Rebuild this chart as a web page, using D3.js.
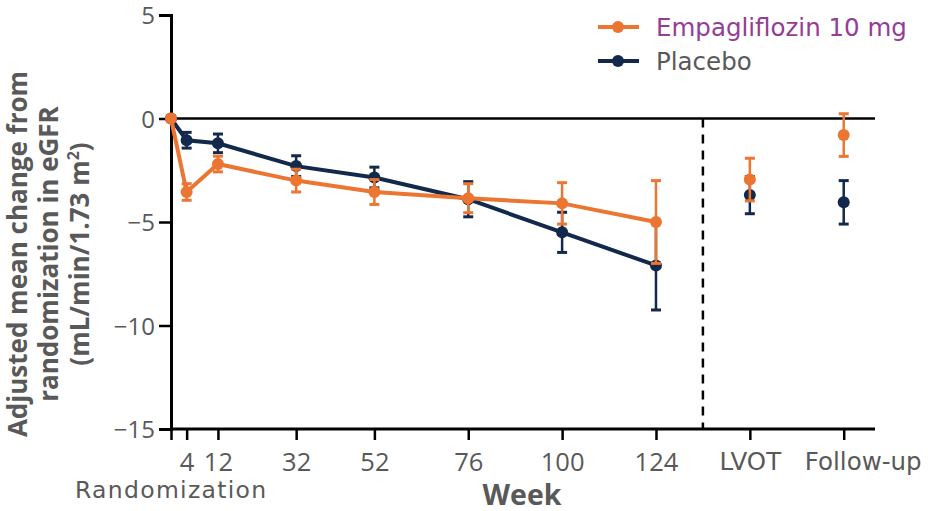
<!DOCTYPE html>
<html>
<head>
<meta charset="utf-8">
<script src="https://cdn.jsdelivr.net/npm/d3@7"></script>
<style>
  html, body { margin: 0; padding: 0; background: #fff; }
  svg { display: block; }
</style>
</head>
<body>
<svg id="chart" width="928" height="511"></svg>
<script>
// Visit positions in weeks; LVOT and follow-up sit after the treatment period
const weeks = [0, 4, 12, 32, 52, 76, 100, 124];
const extraVisits = ["LVOT", "Follow-up"];
const extraWeekPos = [148, 172];
const dividerWeek = 136;

// Adjusted mean change (mL/min/1.73 m²) and error half-widths
const empaMean = [0, -3.55, -2.2, -3.0, -3.55, -3.85, -4.1, -5.0];
const empaErr = [0, 0.4, 0.38, 0.55, 0.6, 0.7, 1.0, 2.0];
const placeboMean = [0, -1.05, -1.2, -2.3, -2.85, -3.9, -5.5, -7.1];
const placeboErr = [0, 0.38, 0.45, 0.5, 0.5, 0.85, 0.97, 2.15];
const empaExtra = [-2.95, -0.8];
const empaExtraErr = [1.03, 1.03];
const placeboExtra = [-3.7, -4.05];
const placeboExtraErr = [0.9, 1.05];

const xTickWeeks = [0, 4, 12, 32, 52, 76, 100, 124];
const xTickLabels = ["", "4", "12", "32", "52", "76", "100", "124"];
const yTicks = [5, 0, -5, -10, -15];

const seriesNames = ["Empagliflozin 10 mg", "Placebo"];
const orange = "#ED7532";
const navy = "#13294B";
const textGrey = "#595959";
const legendPurple = "#953C96";
const numFont = "'Open Sans', sans-serif";
const wordFont = "'DejaVu Sans', sans-serif";

const svg = d3.select("#chart");
const x = d3.scaleLinear().domain([0, 180]).range([171, 875]);
const y = d3.scaleLinear().domain([-15, 5]).range([429, 15]);

// Y axis
const yAxis = svg.append("g")
  .attr("transform", `translate(${x(0)},0)`)
  .call(d3.axisLeft(y).tickValues(yTicks).tickSize(12).tickPadding(4)
    .tickFormat(d => d < 0 ? "\u2212" + Math.abs(d) : d));
yAxis.select(".domain").attr("stroke", "#000").attr("stroke-width", 3);
yAxis.selectAll(".tick line").attr("stroke", "#000").attr("stroke-width", 2.5);
yAxis.selectAll(".tick text").attr("fill", textGrey)
  .style("font-family", numFont).style("font-size", "24px").attr("dy", "0.36em");

// X axis
const nMain = xTickLabels.length;
const xAxis = svg.append("g")
  .attr("transform", `translate(0,${y(-15)})`)
  .call(d3.axisBottom(x).tickValues(xTickWeeks.concat(extraWeekPos)).tickSize(11)
    .tickFormat((d, i) => i < nMain ? xTickLabels[i] : extraVisits[i - nMain]));
xAxis.select(".domain").attr("stroke", "#000").attr("stroke-width", 3)
  .attr("d", `M${x(0)},0H${x(180)}`);
xAxis.selectAll(".tick line").attr("stroke", "#000").attr("stroke-width", 2.5);
xAxis.selectAll(".tick text")
  .attr("y", (d, i) => i < nMain ? 42 : 41).attr("dy", 0).attr("fill", textGrey)
  .attr("dx", (d, i) => i === nMain + 1 ? 19 : 0)
  .style("font-family", (d, i) => i < nMain ? numFont : wordFont)
  .style("font-size", (d, i) => i < nMain ? "25.5px" : "24.5px");

// Zero reference line
svg.append("line")
  .attr("x1", x(0)).attr("x2", x(180))
  .attr("y1", y(0)).attr("y2", y(0))
  .attr("stroke", "#000").attr("stroke-width", 2.5);

// End-of-treatment divider
svg.append("line")
  .attr("x1", x(dividerWeek)).attr("x2", x(dividerWeek))
  .attr("y1", y(0)).attr("y2", y(-15))
  .attr("stroke", "#000").attr("stroke-width", 2.5)
  .attr("stroke-dasharray", "9,7");

// Axis titles
svg.append("text").attr("x", 75).attr("y", 498)
  .attr("fill", textGrey).style("font-family", wordFont).style("font-size", "23.5px")
  .attr("letter-spacing", 1.3).text("Randomization");
svg.append("text").attr("x", 522).attr("y", 505).attr("text-anchor", "middle")
  .attr("fill", textGrey).style("font-family", numFont).style("font-size", "28.5px")
  .style("font-weight", "bold").text("Week");

const yTitle = svg.append("text")
  .attr("transform", "translate(27,254) rotate(-90)")
  .attr("text-anchor", "middle").attr("fill", textGrey)
  .style("font-family", numFont).style("font-size", "26px").style("font-weight", "bold");
yTitle.append("tspan").attr("x", 0).attr("y", 0).text("Adjusted mean change from");
yTitle.append("tspan").attr("x", 0).attr("y", 31).text("randomization in eGFR");
yTitle.append("tspan").attr("x", 0).attr("y", 62).text("(mL/min/1.73 m");
yTitle.append("tspan").style("font-size", "16px").attr("dy", -10).text("2");
yTitle.append("tspan").attr("dy", 10).text(")");

// Series data
const empa = weeks.map((w, i) => ({ w, m: empaMean[i], e: empaErr[i] }));
const placebo = weeks.map((w, i) => ({ w, m: placeboMean[i], e: placeboErr[i] }));
const empaX = extraWeekPos.map((w, i) => ({ w, m: empaExtra[i], e: empaExtraErr[i] }));
const placeboX = extraWeekPos.map((w, i) => ({ w, m: placeboExtra[i], e: placeboExtraErr[i] }));

const line = d3.line().x(d => x(d.w)).y(d => y(d.m));

function drawErrors(data, color) {
  const g = svg.append("g").attr("stroke", color).attr("stroke-width", 2.5);
  data.filter(d => d.e > 0).forEach(d => {
    g.append("line").attr("x1", x(d.w)).attr("x2", x(d.w))
      .attr("y1", y(d.m + d.e)).attr("y2", y(d.m - d.e));
    [d.m + d.e, d.m - d.e].forEach(v => {
      g.append("line").attr("x1", x(d.w) - 5).attr("x2", x(d.w) + 5)
        .attr("y1", y(v)).attr("y2", y(v)).attr("stroke-width", 3);
    });
  });
}
function drawDots(data, color, r) {
  svg.append("g").selectAll("circle").data(data).join("circle")
    .attr("cx", d => x(d.w)).attr("cy", d => y(d.m)).attr("r", r).attr("fill", color);
}

svg.append("path").datum(placebo).attr("d", line)
  .attr("fill", "none").attr("stroke", navy).attr("stroke-width", 4);
drawErrors(placebo.concat(placeboX), navy);
drawDots(placebo.concat(placeboX), navy, 6);

svg.append("path").datum(empa).attr("d", line)
  .attr("fill", "none").attr("stroke", orange).attr("stroke-width", 4);
drawErrors(empa.concat(empaX), orange);
drawDots(empa.concat(empaX), orange, 6);

// Legend
const legend = svg.append("g");
[[orange, legendPurple], [navy, textGrey]].forEach(([c, tc], i) => {
  const ly = 27 + i * 34;
  legend.append("line").attr("x1", 598).attr("x2", 639).attr("y1", ly).attr("y2", ly)
    .attr("stroke", c).attr("stroke-width", 4);
  legend.append("circle").attr("cx", 618).attr("cy", ly).attr("r", 6).attr("fill", c);
  legend.append("text").attr("x", 656).attr("y", ly).attr("dy", "0.36em")
    .attr("fill", tc).style("font-family", wordFont).style("font-size", "24.5px")
    .text(seriesNames[i]);
});
</script>
</body>
</html>
